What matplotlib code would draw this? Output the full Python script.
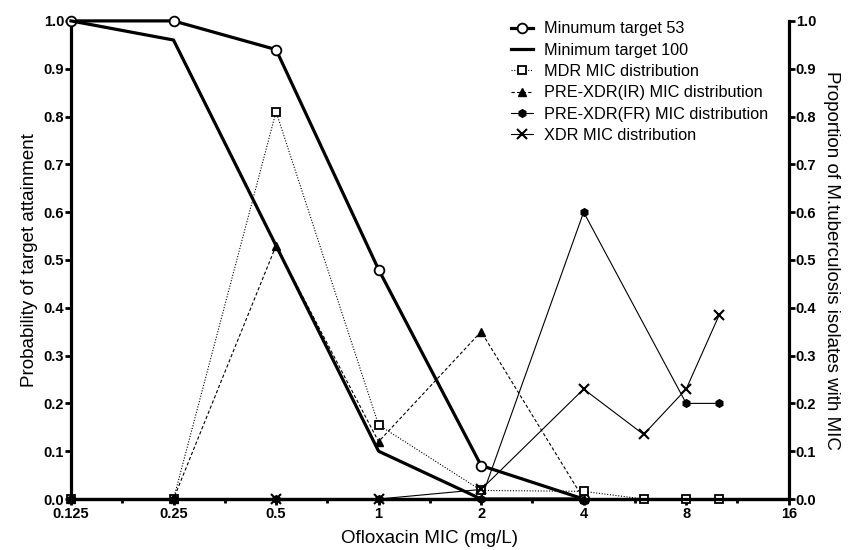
import numpy as np
import matplotlib
matplotlib.use("Agg")
import matplotlib.pyplot as plt
from matplotlib.ticker import FixedLocator, NullFormatter

plt.rcParams['font.family'] = ['Liberation Sans', 'DejaVu Sans']

# MIC values (mg/L)
mic_target = [0.125, 0.25, 0.5, 1, 2, 4]
target53 = [1.0, 1.0, 0.94, 0.48, 0.07, 0.0]
target100 = [1.0, 0.96, 0.53, 0.10, 0.0, 0.0]

mic_dist = [0.125, 0.25, 0.5, 1, 2, 4, 6, 8, 10]
mdr = [0.0, 0.0, 0.81, 0.155, 0.018, 0.016, 0.0, 0.0, 0.0]

mic_ir = [0.125, 0.25, 0.5, 1, 2, 4]
pre_xdr_ir = [0.0, 0.0, 0.53, 0.12, 0.35, 0.0]

mic_fr = [0.125, 0.25, 0.5, 1, 2, 4, 8, 10]
pre_xdr_fr = [0.0, 0.0, 0.0, 0.0, 0.0, 0.6, 0.2, 0.2]

mic_xdr = [0.5, 1, 2, 4, 6, 8, 10]
xdr = [0.0, 0.0, 0.02, 0.23, 0.135, 0.23, 0.385]

xticks = [0.125, 0.25, 0.5, 1, 2, 4, 8, 16]
xticklabels = ["0.125", "0.25", "0.5", "1", "2", "4", "8", "16"]
yticks = np.round(np.arange(0, 1.01, 0.1), 1)

fig = plt.figure(figsize=(8.49, 5.5), dpi=100)
ax = fig.add_axes([0.0836, 0.0927, 0.8454, 0.8693])
ax2 = ax.twinx()

lw_thick = 2.3
lw_thin = 0.8

l1, = ax.plot(mic_target, target53, color="black", lw=lw_thick, marker="o",
              ms=7, mfc="white", mec="black", mew=1.3, clip_on=False, zorder=3)
l2, = ax.plot(mic_target, target100, color="black", lw=lw_thick, clip_on=False, zorder=3)

l3, = ax2.plot(mic_dist, mdr, color="black", lw=lw_thin, ls=(0, (1, 1.5)), marker="s",
               ms=6, mfc="white", mec="black", mew=1.3, clip_on=False)
l4, = ax2.plot(mic_ir, pre_xdr_ir, color="black", lw=lw_thin, ls=(0, (3, 2)), marker="^",
               ms=6, mfc="black", mec="black", clip_on=False)
l5, = ax2.plot(mic_fr, pre_xdr_fr, color="black", lw=lw_thin, marker="h",
               ms=5.5, mfc="black", mec="black", clip_on=False)
l6, = ax2.plot(mic_xdr, xdr, color="black", lw=lw_thin, marker="x",
               ms=7, mew=1.5, mec="black", clip_on=False)

for a in (ax, ax2):
    a.set_xscale("log", base=2)
    a.set_xlim(0.125, 16)
    a.set_ylim(0, 1.0)
    a.set_yticks(yticks)
    a.set_yticklabels([f"{v:.1f}" for v in yticks], fontweight="bold", fontsize=10.5)
    for s in a.spines.values():
        s.set_linewidth(2.3)
    a.spines["top"].set_visible(False)
    a.tick_params(axis="y", direction="out", length=4, width=2, pad=1)

ax.spines["right"].set_visible(False)
ax2.spines["left"].set_visible(False)

ax.xaxis.set_major_locator(FixedLocator(xticks))
ax.set_xticklabels(xticklabels, fontweight="bold", fontsize=10.5)
ax.xaxis.set_minor_locator(FixedLocator([t * np.sqrt(2) for t in xticks[:-1]]))
ax.xaxis.set_minor_formatter(NullFormatter())
ax.tick_params(axis="x", which="major", direction="out", length=4, width=2, pad=2)
ax.tick_params(axis="x", which="minor", direction="out", length=3, width=2)

ax.set_xlabel("Ofloxacin MIC (mg/L)", fontsize=13.5, labelpad=6)
ax.set_ylabel("Probability of target attainment", fontsize=13.5, labelpad=4)
ax2.set_ylabel("Proportion of M.tuberculosis isolates with MIC", fontsize=13.5,
               rotation=270, labelpad=17)

ax2.legend([l1, l2, l3, l4, l5, l6],
           ["Minumum target 53", "Minimum target 100", "MDR MIC distribution",
            "PRE-XDR(IR) MIC distribution", "PRE-XDR(FR) MIC distribution",
            "XDR MIC distribution"],
           loc="upper left", bbox_to_anchor=(0.585, 0.988), bbox_transform=fig.transFigure,
           frameon=False, fontsize=11.7, handlelength=1.35, handletextpad=0.68,
           labelspacing=0.39, borderaxespad=0.5)

fig.savefig("out.png", dpi=100)
